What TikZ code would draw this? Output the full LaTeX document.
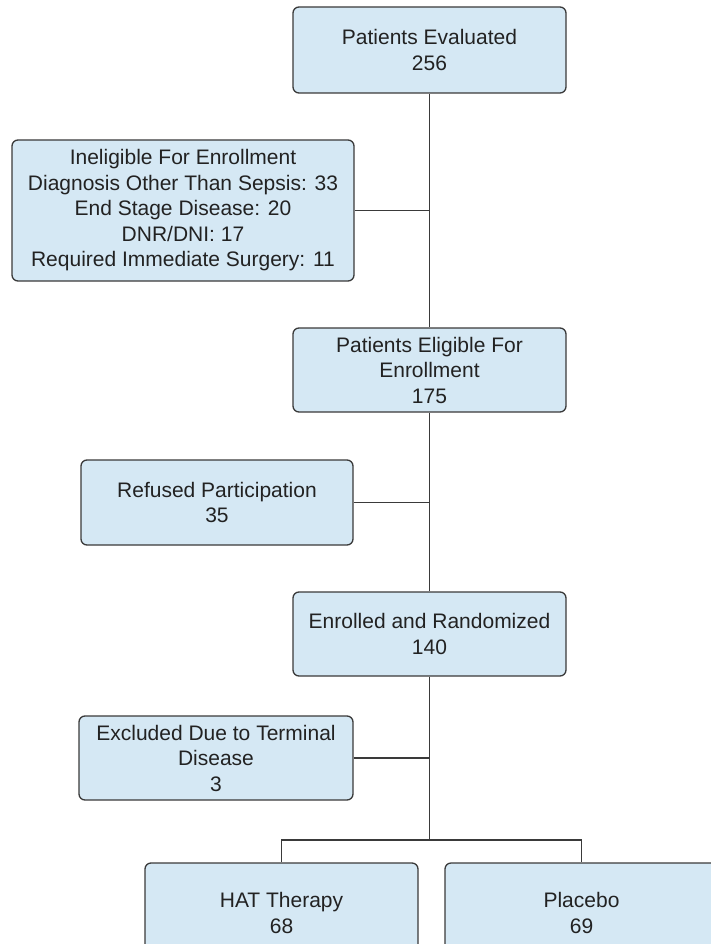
\documentclass[tikz,border=0pt]{standalone}
\usepackage{fontspec}
\setmainfont{Liberation Sans}
\usetikzlibrary{positioning}
\definecolor{boxfill}{HTML}{D5E8F4}
\definecolor{boxline}{HTML}{3A3A3A}
\definecolor{boxtext}{HTML}{222222}
\tikzset{
 flowbox/.style={draw=boxline,line width=1.3pt,fill=boxfill,rounded corners=6pt,
  align=center,text=boxtext,inner sep=2pt,minimum width=273pt,minimum height=85pt,
  font=\fontsize{21}{25.5}\selectfont},
 link/.style={draw=boxline,line width=1.3pt}
}
\begin{document}
\begin{tikzpicture}[x=1pt,y=-1pt]
 \useasboundingbox (0,0) rectangle (711,944);
 \node[flowbox,minimum height=86pt] (evaluated) at (429.5,50) {Patients Evaluated\\256};
 \node[flowbox,minimum width=342pt,minimum height=141pt] (ineligible) at (183,210.5) {Ineligible For Enrollment\\Diagnosis Other Than Sepsis: 33\\End Stage Disease: 20\\DNR/DNI: 17\\Required Immediate Surgery: 11};
 \node[flowbox,minimum height=84pt] (eligible) at (429.5,370) {Patients Eligible For\\Enrollment\\175};
 \node[flowbox,minimum width=272pt] (refused) at (217,502.5) {Refused Participation\\35};
 \node[flowbox,minimum height=84pt] (enrolled) at (429.5,634) {Enrolled and Randomized\\140};
 \node[flowbox,minimum width=274pt,minimum height=84pt] (excluded) at (216,758) {Excluded Due to Terminal\\Disease\\3};
 \node[flowbox,minimum height=100pt] (hat) at (281.5,913) {HAT Therapy\\68};
 \node[flowbox,minimum height=100pt] (placebo) at (581.5,913) {Placebo\\69};
 \coordinate (fork) at (429.5,840);
 \draw[link] (evaluated.south) -- (eligible.north);
 \draw[link] (ineligible.east) -- (ineligible.east -| evaluated.south);
 \draw[link] (eligible.south) -- (enrolled.north);
 \draw[link] (refused.east) -- (refused.east -| eligible.south);
 \draw[link] (enrolled.south) -- (fork);
 \draw[link] (excluded.east) -- (excluded.east -| enrolled.south);
 \draw[link] (hat.north) -- (hat.north |- fork) -- (placebo.north |- fork) -- (placebo.north);
\end{tikzpicture}
\end{document}
